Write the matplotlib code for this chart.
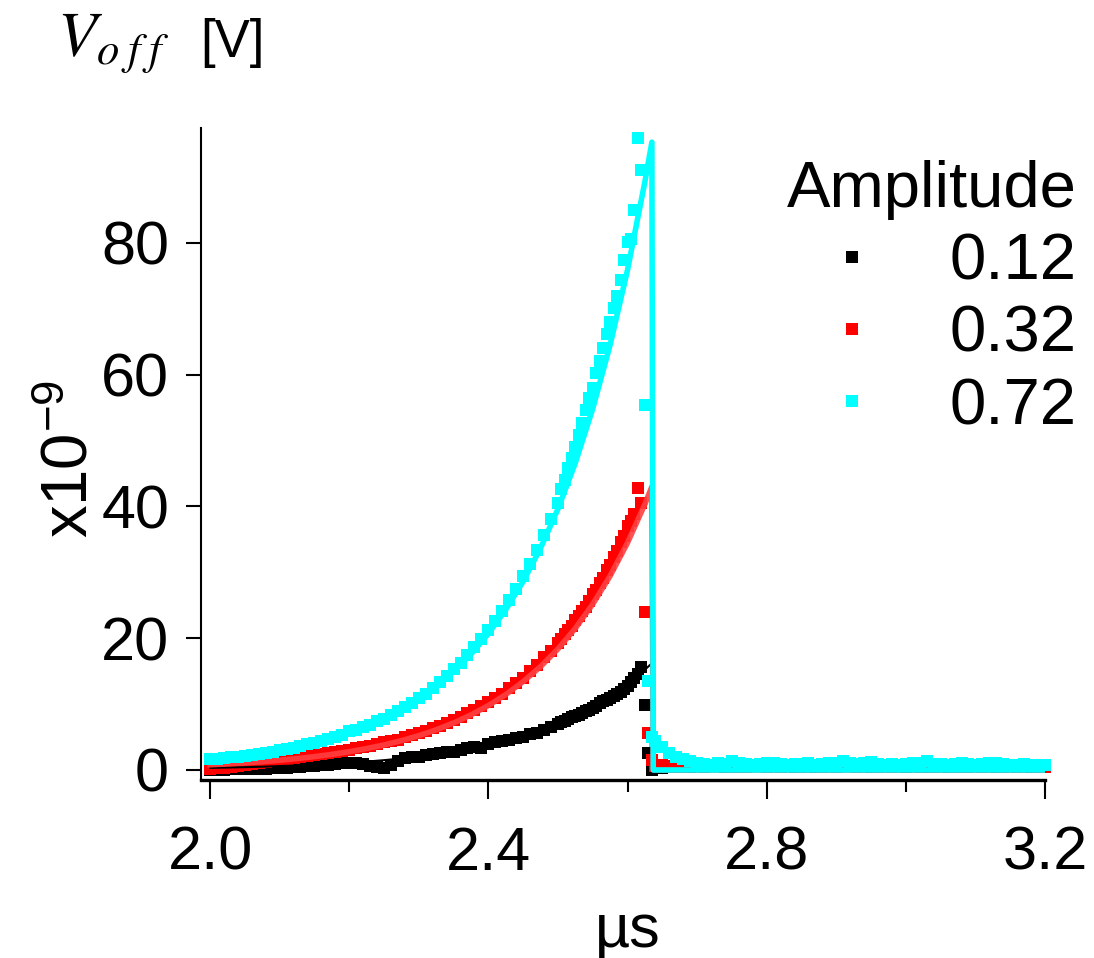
import numpy as np
import matplotlib
matplotlib.use("Agg")
import matplotlib.pyplot as plt
from matplotlib.ticker import MultipleLocator

# time grid (us): coarse rise, fine near the edge, tail
t = np.round(np.concatenate([np.arange(2.00, 2.501, 0.01),
                             np.arange(2.505, 2.6401, 0.005),
                             np.arange(2.65, 3.2001, 0.01)]), 3)

amplitudes = ["0.12", "0.32", "0.72"]

# measured V_off (x1e-9 V)
v_012 = [0.0, 0.0, 0.0, 0.1, 0.1, 0.1, 0.2, 0.2, 0.2, 0.3,
         0.3, 0.3, 0.4, 0.5, 0.6, 0.6, 0.8, 0.8, 0.9, 1.0,
         1.1, 1.0, 0.9, 0.6, 0.4, 0.3, 0.7, 1.3, 1.8, 1.9,
         2.0, 2.2, 2.4, 2.6, 2.7, 2.8, 3.0, 3.4, 3.5, 3.4,
         3.9, 4.2, 4.4, 4.6, 4.8, 5.0, 5.5, 5.6, 6.1, 6.6,
         7.0,
         7.3, 7.5, 7.8, 8.0, 8.2, 8.4, 8.6, 8.9, 9.1, 9.4,
         9.7, 10.1, 10.5, 10.6, 10.9, 11.2, 11.5, 11.9, 12.3, 12.8,
         13.3, 13.9, 14.5, 15.6, 9.9, 2.6, 0.0, 0.3,
         0.3, 0.5, 0.6, 0.5, 0.4, 0.6, 0.5, 0.7, 0.6, 0.5,
         0.6, 0.5, 0.4, 0.6, 0.7, 0.5, 0.6, 0.5, 0.6, 0.5,
         0.7, 0.6, 0.5, 0.4, 0.6, 0.5, 0.7, 0.6, 0.5, 0.6,
         0.5, 0.6, 0.7, 0.5, 0.6, 0.5, 0.6, 0.4, 0.5, 0.7,
         0.6, 0.5, 0.6, 0.5, 0.7, 0.6, 0.5, 0.6, 0.5, 0.6,
         0.7, 0.5, 0.6, 0.5, 0.6, 0.7]

v_032 = [0.2, 0.3, 0.3, 0.5, 0.6, 0.8, 0.9, 1.0, 1.2, 1.3,
         1.5, 1.6, 1.8, 1.9, 2.1, 2.2, 2.5, 2.6, 2.8, 2.9,
         3.1, 3.3, 3.5, 3.6, 3.9, 4.2, 4.4, 4.6, 5.0, 5.3,
         5.6, 5.9, 6.4, 6.7, 7.2, 7.6, 8.0, 8.6, 9.1, 9.7,
         10.3, 10.9, 11.6, 12.5, 13.2, 14.0, 15.1, 16.0, 17.1, 18.1,
         19.3,
         19.9, 20.6, 21.3, 21.8, 22.7, 23.3, 24.2, 24.8, 25.7, 26.7,
         27.3, 28.4, 29.2, 30.3, 31.1, 32.4, 33.2, 34.6, 35.5, 37.0,
         37.8, 38.9, 42.8, 40.6, 24.0, 5.6, 1.5, 0.6,
         0.8, 0.6, 0.5, 0.5, 0.6, 0.7, 0.5, 0.6, 0.7, 0.6,
         0.5, 0.6, 0.5, 0.7, 0.6, 0.5, 0.6, 0.5, 0.7, 0.6,
         0.5, 0.6, 0.7, 0.5, 0.6, 0.5, 0.7, 0.6, 0.5, 0.6,
         0.7, 0.5, 0.6, 0.5, 0.6, 0.7, 0.6, 0.5, 0.6, 0.5,
         0.6, 0.7, 0.5, 0.6, 0.5, 0.6, 0.5, 0.7, 0.6, 0.5,
         0.6, 0.5, 0.6, 0.7, 0.5, 0.4]

v_072 = [1.6, 1.7, 1.8, 1.9, 2.0, 2.1, 2.3, 2.4, 2.6, 2.8,
         3.0, 3.2, 3.4, 3.6, 3.9, 4.1, 4.4, 4.7, 5.0, 5.3,
         5.9, 6.1, 6.5, 6.9, 7.4, 7.8, 8.3, 8.9, 9.5, 10.2,
         10.9, 11.6, 12.5, 13.3, 14.2, 15.3, 16.3, 17.4, 18.6, 19.9,
         21.2, 22.6, 24.2, 25.8, 27.5, 29.4, 31.3, 33.4, 35.7, 38.1,
         40.5,
         42.6, 44.0, 45.8, 47.4, 49.0, 50.9, 52.6, 54.6, 56.4, 58.0,
         60.3, 62.1, 64.0, 66.2, 68.0, 70.2, 72.0, 74.4, 77.4, 80.2,
         80.6, 85.0, 96.0, 91.0, 55.4, 13.5, 5.0, 4.4,
         3.5, 2.6, 2.0, 1.6, 1.3, 1.1, 0.9, 0.8, 1.0, 0.9,
         1.3, 1.0, 0.9, 0.8, 0.9, 1.0, 1.0, 0.9, 0.8, 0.9,
         0.9, 1.0, 0.8, 0.9, 1.0, 1.1, 1.3, 1.0, 0.9, 1.0,
         1.2, 0.9, 0.8, 0.9, 0.8, 0.9, 1.0, 1.0, 1.3, 0.9,
         0.9, 0.8, 0.9, 1.0, 0.9, 0.8, 0.9, 1.0, 1.1, 0.9,
         0.8, 0.8, 0.9, 0.8, 0.8, 0.8]

# fitted curves
t_fit = [2.000, 2.025, 2.050, 2.075, 2.100, 2.125, 2.150, 2.175, 2.200, 2.225,
         2.250, 2.275, 2.300, 2.325, 2.350, 2.375, 2.400, 2.425, 2.450, 2.475,
         2.500, 2.525, 2.550, 2.575, 2.600, 2.625, 2.635, 2.637, 3.200]
fit_012 = [0.32, 0.37, 0.43, 0.50, 0.59, 0.69, 0.80, 0.93, 1.09, 1.27,
           1.49, 1.74, 2.03, 2.37, 2.77, 3.23, 3.77, 4.41, 5.14, 6.01,
           7.01, 8.19, 9.56, 11.17, 13.04, 15.23, 16.2, 0.0, 0.0]
fit_032 = [0.79, 0.92, 1.08, 1.26, 1.48, 1.73, 2.03, 2.37, 2.77, 3.25,
           3.80, 4.45, 5.21, 6.10, 7.14, 8.36, 9.78, 11.45, 13.41, 15.69,
           18.37, 21.50, 25.17, 29.46, 34.49, 40.37, 43.0, 0.0, 0.0]
fit_072 = [1.54, 1.81, 2.13, 2.50, 2.94, 3.46, 4.07, 4.79, 5.64, 6.63,
           7.80, 9.18, 10.80, 12.70, 14.95, 17.58, 20.69, 24.34, 28.63, 33.69,
           39.63, 46.62, 54.85, 64.53, 75.91, 89.31, 95.3, 0.0, 0.0]

plt.rcParams['font.family'] = ['Liberation Sans', 'DejaVu Sans']
plt.rcParams['mathtext.fontset'] = 'stix'

fig = plt.figure(figsize=(10.94, 9.58), dpi=100)
ax = fig.add_axes([201/1094, 178/958, 844/1094, 652/958])

ms = 8.5
ax.plot(t, v_012, 's', color='black', ms=ms, mew=0, clip_on=False, label=amplitudes[0], zorder=2)
ax.plot(t, v_032, 's', color='#ff0000', ms=ms, mew=0, clip_on=False, label=amplitudes[1], zorder=2)
ax.plot(t_fit, fit_012, '-', color='black', lw=1.5, zorder=3)
ax.plot(t_fit, fit_032, '-', color='#ff4040', lw=4, alpha=0.9, zorder=3)
ax.plot(t, v_072, 's', color='#00ffff', ms=ms, mew=0, clip_on=False, label=amplitudes[2], zorder=4)
ax.plot(t_fit, fit_072, '-', color='#00ffff', lw=4, zorder=5)

ax.set_xlim(1.987, 3.2)
ax.set_ylim(-1.52, 97.45)
ax.xaxis.set_major_locator(MultipleLocator(0.4))
ax.xaxis.set_minor_locator(MultipleLocator(0.2))
ax.yaxis.set_major_locator(MultipleLocator(20))
ax.xaxis.set_major_formatter(matplotlib.ticker.FormatStrFormatter('%.1f'))

for side in ['top', 'right']:
    ax.spines[side].set_visible(False)
ax.spines['left'].set_linewidth(1.5)
ax.spines['bottom'].set_linewidth(2.4)

ax.tick_params(axis='x', which='major', length=14, width=1.5, labelsize=44, pad=19)
ax.tick_params(axis='x', which='minor', length=8.5, width=1.5)
ax.tick_params(axis='y', which='major', length=11, width=1.5, labelsize=44, pad=12)

fig.text(628/1094, 1 - 947/958, 'µs', fontsize=44, ha='center', va='baseline')
fig.text(70/1094, 1 - 459/958, r'x10$^{\mathregular{-9}}$', fontsize=47,
         rotation=90, ha='center', va='center')
fig.text(57/1094, 1 - 57/958, r'$V_{o\;f\;f}$', fontsize=46, ha='left', va='baseline')
fig.text(200/1094, 1 - 57/958, '[V]', fontsize=38, ha='left', va='baseline')

leg = ax.legend(loc='upper right', bbox_to_anchor=(1077/1094, 1 - 160/958),
                bbox_transform=fig.transFigure, frameon=False, fontsize=47,
                title='Amplitude', title_fontsize=47, alignment='right',
                handlelength=0.8, handletextpad=1.1, labelspacing=0.19,
                borderpad=0, borderaxespad=0)

fig.savefig('out.png', dpi=100)
